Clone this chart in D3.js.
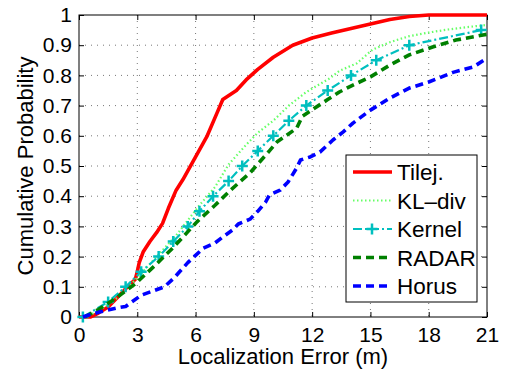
<!DOCTYPE html>
<html>
<head>
<meta charset="utf-8">
<script src="https://cdn.jsdelivr.net/npm/d3@7"></script>
<style>
  body { margin: 0; background: #fff; }
  svg { display: block; font-family: "Liberation Sans", Arial, sans-serif; }
</style>
</head>
<body>
<div id="chart"></div>
<script>
// CDF curves (x = localization error in m, p = cumulative prob.)
const tilejX = [0, 0.6, 1, 1.5, 2, 2.5, 2.9, 3.0, 3.1, 3.3, 3.65, 4.0, 4.3, 4.6, 5.0, 5.35, 6.0, 6.6, 7.1, 7.4, 8.1, 8.6, 9.2, 10, 11, 12, 13, 14, 15, 16, 17, 18, 21];
const tilejP = [0, 0, 0.013, 0.033, 0.066, 0.10, 0.125, 0.15, 0.18, 0.215, 0.25, 0.28, 0.31, 0.36, 0.42, 0.455, 0.53, 0.60, 0.675, 0.72, 0.75, 0.785, 0.82, 0.86, 0.90, 0.924, 0.94, 0.955, 0.97, 0.985, 0.995, 1.0, 1.0];

const kldivX = [0.3, 1, 2, 3, 4, 5, 5.6, 6.2, 7.0, 7.7, 8.6, 9.2, 10, 10.8, 11.7, 12.9, 13.4, 14.3, 15.1, 16, 17, 18, 19, 20, 21];
const kldivP = [0, 0.02, 0.065, 0.13, 0.2, 0.27, 0.32, 0.37, 0.43, 0.505, 0.57, 0.61, 0.65, 0.70, 0.745, 0.79, 0.815, 0.84, 0.885, 0.91, 0.93, 0.942, 0.952, 0.96, 0.967];

const kernelX = [0.2, 1.5, 2.4, 3.2, 4.1, 4.85, 5.6, 6.2, 6.9, 7.7, 8.4, 9.2, 10.0, 10.8, 11.7, 12.8, 14.0, 15.3, 17.0, 20.7];
const kernelP = [0, 0.05, 0.1, 0.15, 0.2, 0.25, 0.3, 0.35, 0.4, 0.45, 0.5, 0.55, 0.6, 0.65, 0.7, 0.75, 0.8, 0.85, 0.9, 0.95];

const radarX = [0.3, 1, 1.85, 2.9, 3.9, 4.85, 6.07, 7.0, 7.8, 8.8, 9.8, 10.2, 11.2, 11.5, 12.8, 13.4, 14.1, 15, 16, 17, 18.2, 19.4, 20.8, 21];
const radarP = [0, 0.025, 0.06, 0.11, 0.17, 0.23, 0.315, 0.37, 0.42, 0.477, 0.55, 0.58, 0.625, 0.665, 0.72, 0.745, 0.768, 0.795, 0.834, 0.868, 0.894, 0.917, 0.934, 0.936];

const horusX = [0.2, 0.5, 1.1, 1.95, 2.4, 3.2, 4.4, 4.9, 5.6, 6.4, 7.0, 7.4, 7.9, 8.2, 8.8, 9.2, 9.6, 9.8, 10.35, 10.76, 11.2, 11.4, 11.9, 12.4, 13.07, 13.6, 14.1, 15, 16, 17, 18, 19.25, 20.3, 21];
const horusP = [0, 0.007, 0.017, 0.03, 0.035, 0.072, 0.1, 0.13, 0.18, 0.228, 0.245, 0.265, 0.288, 0.308, 0.324, 0.35, 0.38, 0.404, 0.42, 0.447, 0.493, 0.52, 0.53, 0.546, 0.586, 0.613, 0.642, 0.685, 0.725, 0.758, 0.778, 0.81, 0.828, 0.857];

const xTicks = [0, 3, 6, 9, 12, 15, 18, 21];
const yTicks = [0, 0.1, 0.2, 0.3, 0.4, 0.5, 0.6, 0.7, 0.8, 0.9, 1];
const yTickLabels = ['0', '0.1', '0.2', '0.3', '0.4', '0.5', '0.6', '0.7', '0.8', '0.9', '1'];

const seriesNames = ['Tilej.', 'KL\u2013div', 'Kernel', 'RADAR', 'Horus'];

const series = [
  { name: seriesNames[0], xs: tilejX, ps: tilejP, color: '#ff0000', width: 3.6, dash: null },
  { name: seriesNames[1], xs: kldivX, ps: kldivP, color: '#66ff66', width: 2.2, dash: '1.5,2.5' },
  { name: seriesNames[2], xs: kernelX, ps: kernelP, color: '#00bfbf', width: 2.2, dash: '9,3,2,3', marker: true },
  { name: seriesNames[3], xs: radarX, ps: radarP, color: '#008000', width: 3.6, dash: '8,5' },
  { name: seriesNames[4], xs: horusX, ps: horusP, color: '#0000ff', width: 3.6, dash: '8,5' }
];

const W = 508, H = 374;
const margin = { top: 15, right: 21, bottom: 57, left: 79 };
const w = W - margin.left - margin.right,
  h = H - margin.top - margin.bottom;

const svg = d3.select('#chart').append('svg')
  .attr('width', W).attr('height', H);

const g = svg.append('g')
  .attr('transform', 'translate(' + margin.left + ',' + margin.top + ')');

const x = d3.scaleLinear().domain([0, 21]).range([0, w]);
const y = d3.scaleLinear().domain([0, 1]).range([h, 0]);

// dotted grid
g.append('g').selectAll('line')
  .data(xTicks.slice(1, -1)).enter().append('line')
  .attr('x1', d => x(d)).attr('x2', d => x(d))
  .attr('y1', 0).attr('y2', h)
  .attr('stroke', '#777').attr('stroke-width', 1)
  .attr('stroke-dasharray', '1,5');
g.append('g').selectAll('line')
  .data(yTicks.slice(1, -1)).enter().append('line')
  .attr('y1', d => y(d)).attr('y2', d => y(d))
  .attr('x1', 0).attr('x2', w)
  .attr('stroke', '#777').attr('stroke-width', 1)
  .attr('stroke-dasharray', '1,5');

// axes (ticks pointing inward, labels on bottom/left)
const xAxis = g.append('g')
  .attr('transform', 'translate(0,' + h + ')')
  .call(d3.axisBottom(x).tickValues(xTicks).tickSizeInner(-5).tickSizeOuter(0).tickPadding(10));
const yAxis = g.append('g')
  .call(d3.axisLeft(y).tickValues(yTicks).tickFormat((d, i) => yTickLabels[i])
    .tickSizeInner(-5).tickSizeOuter(0).tickPadding(7));
g.append('g')
  .call(d3.axisTop(x).tickValues(xTicks).tickSizeInner(-5).tickSizeOuter(0).tickFormat(''));
g.append('g')
  .attr('transform', 'translate(' + w + ',0)')
  .call(d3.axisRight(y).tickValues(yTicks).tickSizeInner(-5).tickSizeOuter(0).tickFormat(''));

g.selectAll('.domain').remove();
g.selectAll('.tick line').attr('stroke', '#000');
[xAxis, yAxis].forEach(a => a.selectAll('text')
  .style('font-size', '21px').style('font-family', '"Liberation Sans", Arial, sans-serif')
  .attr('fill', '#000'));
xAxis.selectAll('text').attr('y', 25).attr('dy', null);

// box
g.append('rect')
  .attr('width', w).attr('height', h)
  .attr('fill', 'none').attr('stroke', '#000').attr('stroke-width', 1);

// curves
const line = d3.line()
  .x(d => x(d[0])).y(d => y(d[1]));

const curves = g.append('g');
series.forEach(s => {
  const pts = s.xs.map((v, i) => [v, s.ps[i]]);
  curves.append('path')
    .datum(pts)
    .attr('d', line)
    .attr('fill', 'none')
    .attr('stroke', s.color)
    .attr('stroke-width', s.width)
    .attr('stroke-dasharray', s.dash)
    .attr('stroke-linejoin', 'round');
  if (s.marker) {
    curves.append('g').selectAll('path')
      .data(pts).enter().append('path')
      .attr('d', d => {
        const cx = x(d[0]), cy = y(d[1]), r = 5.5;
        return 'M' + (cx - r) + ',' + cy + 'H' + (cx + r) + 'M' + cx + ',' + (cy - r) + 'V' + (cy + r);
      })
      .attr('stroke', s.color).attr('stroke-width', 2.5);
  }
});

// legend
const lx = 346, ly = 155, lw = 131, lh = 147;
const legend = svg.append('g');
legend.append('rect')
  .attr('x', lx).attr('y', ly).attr('width', lw).attr('height', lh)
  .attr('fill', '#fff').attr('stroke', '#000').attr('stroke-width', 1);

const rowY = d3.scalePoint().domain(seriesNames).range([172, 286]);
series.forEach(s => {
  const cy = rowY(s.name);
  legend.append('line')
    .attr('x1', 353).attr('x2', 392).attr('y1', cy).attr('y2', cy)
    .attr('stroke', s.color).attr('stroke-width', s.width)
    .attr('stroke-dasharray', s.dash);
  if (s.marker) {
    legend.append('path')
      .attr('d', 'M366.5,' + cy + 'H377.5M372,' + (cy - 5.5) + 'V' + (cy + 5.5))
      .attr('stroke', s.color).attr('stroke-width', 2.5);
  }
  legend.append('text')
    .attr('x', 397).attr('y', cy).attr('dy', '0.36em')
    .style('font-size', '22.5px')
    .text(s.name);
});

// axis titles
svg.append('text')
  .attr('x', margin.left + w / 2).attr('y', 364)
  .attr('text-anchor', 'middle')
  .style('font-size', '22px')
  .text('Localization Error (m)');

svg.append('text')
  .attr('transform', 'translate(33,' + (margin.top + h / 2) + ') rotate(-90)')
  .attr('text-anchor', 'middle')
  .style('font-size', '22px')
  .text('Cumulative Probability');
</script>
</body>
</html>
